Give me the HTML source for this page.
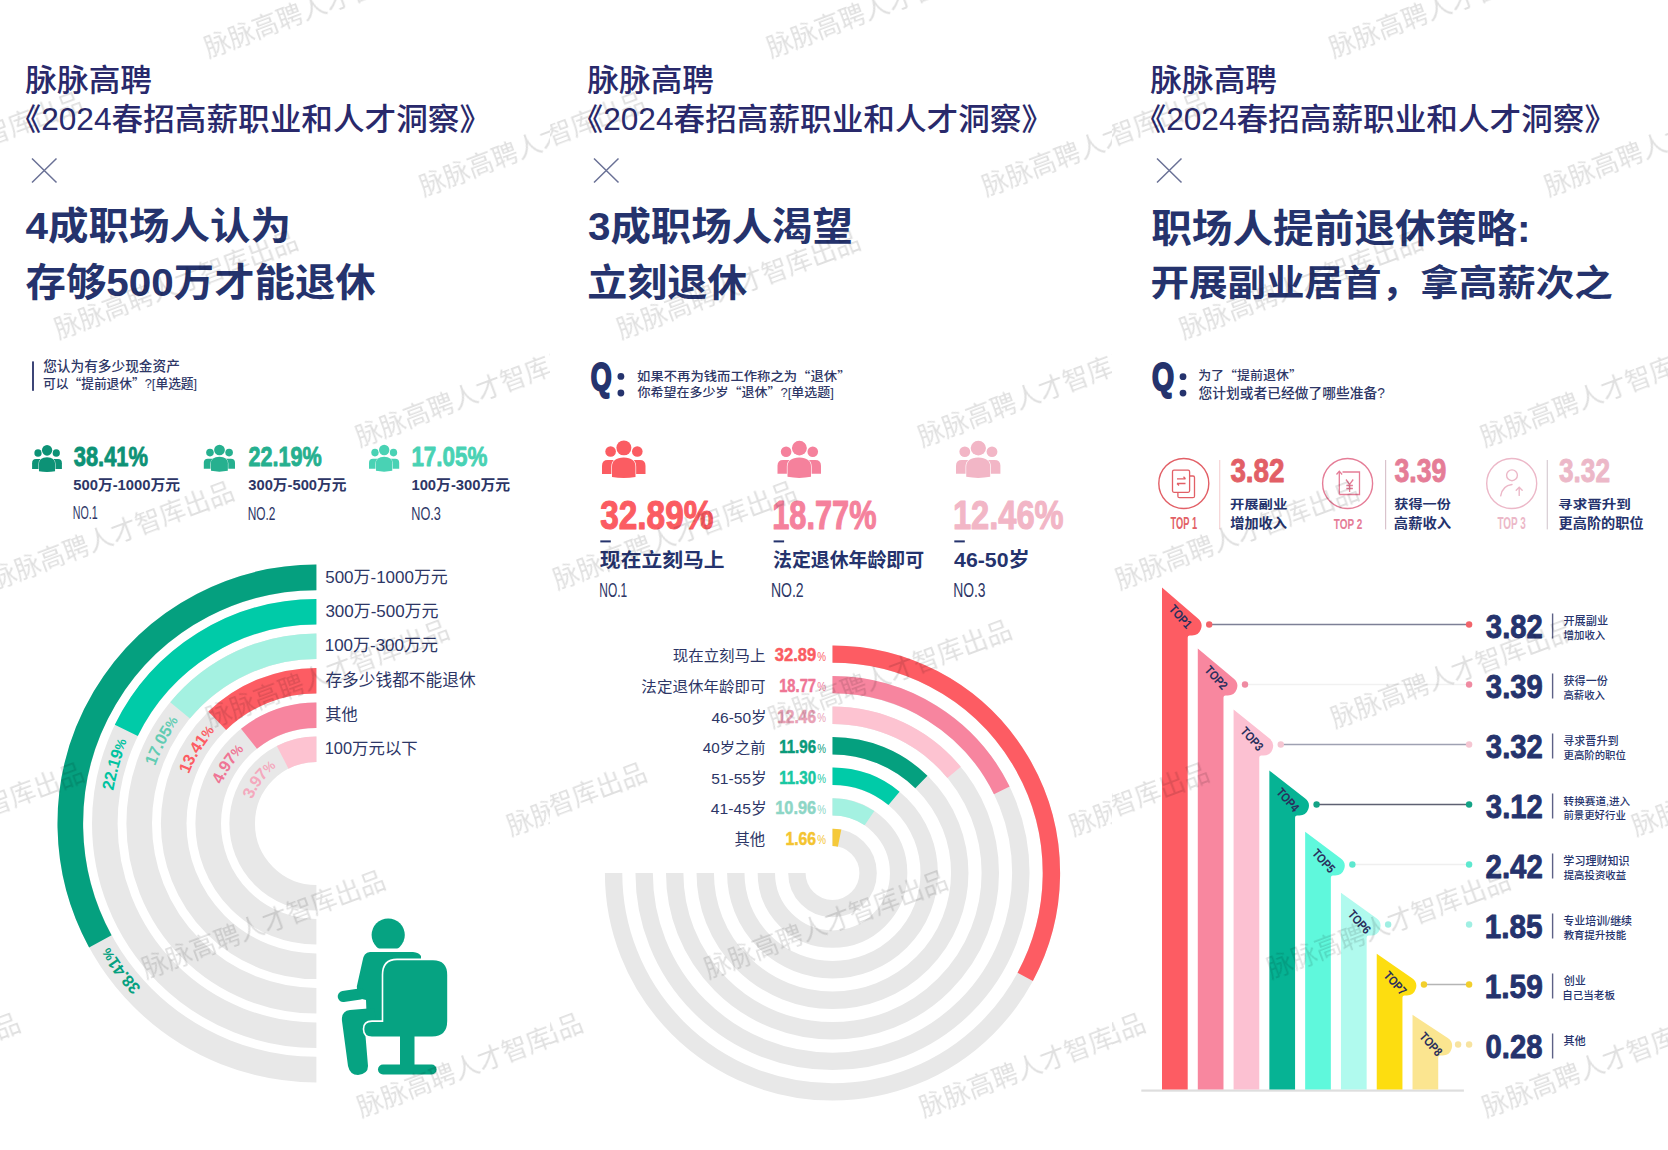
<!DOCTYPE html>
<html><head><meta charset="utf-8"><title>脉脉高聘 2024春招高薪职业和人才洞察</title>
<style>
html,body{margin:0;padding:0;background:#fff;width:1668px;height:1150px;overflow:hidden}
svg{display:block}
text{font-family:"Liberation Sans","Noto Sans CJK SC",sans-serif}
</style></head><body>
<svg width="1668" height="1150" viewBox="0 0 1668 1150">
<rect width="1668" height="1150" fill="#fff"/>
<text x="25.37" y="90.57" font-size="30.31" font-weight="500" fill="#29296b" textLength="126.58" lengthAdjust="spacingAndGlyphs" >脉脉高聘</text>
<text x="9.55" y="130.34" font-size="30.63" font-weight="500" fill="#29296b" textLength="481.49" lengthAdjust="spacingAndGlyphs" >《2024春招高薪职业和人才洞察》</text>
<path d="M32,158.5 L56.5,182.5 M56.5,158.5 L32,182.5" stroke="#6a7196" stroke-width="1.5" fill="none"/>
<text x="25.60" y="239.47" font-size="37.55" font-weight="700" fill="#25336d" textLength="265.44" lengthAdjust="spacingAndGlyphs" >4成职场人认为</text>
<text x="25.60" y="296.41" font-size="38.85" font-weight="700" fill="#25336d" textLength="350.11" lengthAdjust="spacingAndGlyphs" >存够500万才能退休</text>
<text x="587.37" y="90.57" font-size="30.31" font-weight="500" fill="#29296b" textLength="126.58" lengthAdjust="spacingAndGlyphs" >脉脉高聘</text>
<text x="571.55" y="130.34" font-size="30.63" font-weight="500" fill="#29296b" textLength="481.49" lengthAdjust="spacingAndGlyphs" >《2024春招高薪职业和人才洞察》</text>
<path d="M594,158.5 L618.5,182.5 M618.5,158.5 L594,182.5" stroke="#6a7196" stroke-width="1.5" fill="none"/>
<text x="587.99" y="240.18" font-size="38.37" font-weight="700" fill="#25336d" textLength="264.93" lengthAdjust="spacingAndGlyphs" >3成职场人渴望</text>
<text x="587.20" y="296.03" font-size="37.73" font-weight="700" fill="#25336d" textLength="160.20" lengthAdjust="spacingAndGlyphs" >立刻退休</text>
<text x="1150.37" y="90.57" font-size="30.31" font-weight="500" fill="#29296b" textLength="126.58" lengthAdjust="spacingAndGlyphs" >脉脉高聘</text>
<text x="1134.55" y="130.34" font-size="30.63" font-weight="500" fill="#29296b" textLength="481.49" lengthAdjust="spacingAndGlyphs" >《2024春招高薪职业和人才洞察》</text>
<path d="M1157,158.5 L1181.5,182.5 M1181.5,158.5 L1157,182.5" stroke="#6a7196" stroke-width="1.5" fill="none"/>
<text x="1151.19" y="241.63" font-size="38.66" font-weight="700" fill="#25336d" textLength="379.29" lengthAdjust="spacingAndGlyphs" >职场人提前退休策略:</text>
<text x="1150.46" y="295.52" font-size="36.50" font-weight="700" fill="#25336d" textLength="462.31" lengthAdjust="spacingAndGlyphs" >开展副业居首，拿高薪次之</text>
<rect x="32" y="361.4" width="2" height="29.4" fill="#3c4577"/>
<text x="43.19" y="371.49" font-size="13.13" font-weight="500" fill="#2d3666" textLength="136.63" lengthAdjust="spacingAndGlyphs" >您认为有多少现金资产</text>
<text x="42.97" y="388.02" font-size="12.82" font-weight="500" fill="#2d3666" textLength="154.14" lengthAdjust="spacingAndGlyphs" >可以<tspan font-family="Noto Sans CJK SC">“</tspan>提前退休<tspan font-family="Noto Sans CJK SC">”</tspan>?[单选题]</text>
<g transform="translate(32.10,445.00) scale(0.2980,0.3128)" fill="#0d9276"><circle cx="19.8" cy="25.4" r="12.2"/><circle cx="81.1" cy="25.4" r="12.2"/><path d="M0,77 L0,58 Q0,45 13,45 L30,45 L30,77 Z"/><path d="M100,77 L100,58 Q100,45 87,45 L70,45 L70,77 Z"/><path d="M23,84 L23,60 Q23,40 50,39 Q77,40 77,60 L77,84 Q50,89 23,84 Z" stroke="#fff" stroke-width="3" paint-order="stroke"/><circle cx="50.3" cy="17" r="17.2" stroke="#fff" stroke-width="3" paint-order="stroke"/></g>
<text x="73.71" y="466.17" font-size="28.31" font-weight="700" fill="#0d9276" textLength="74.26" lengthAdjust="spacingAndGlyphs"  stroke="#0d9276" stroke-width="0.9" stroke-linejoin="round">38.41%</text>
<text x="73.26" y="489.87" font-size="14.27" font-weight="600" fill="#2d3666" textLength="106.79" lengthAdjust="spacingAndGlyphs" >500万-1000万元</text>
<text x="72.85" y="519.22" font-size="18.03" font-weight="400" fill="#2d3666" textLength="24.84" lengthAdjust="spacingAndGlyphs" >NO.1</text>
<g transform="translate(203.80,444.70) scale(0.3120,0.3116)" fill="#26b08f"><circle cx="19.8" cy="25.4" r="12.2"/><circle cx="81.1" cy="25.4" r="12.2"/><path d="M0,77 L0,58 Q0,45 13,45 L30,45 L30,77 Z"/><path d="M100,77 L100,58 Q100,45 87,45 L70,45 L70,77 Z"/><path d="M23,84 L23,60 Q23,40 50,39 Q77,40 77,60 L77,84 Q50,89 23,84 Z" stroke="#fff" stroke-width="3" paint-order="stroke"/><circle cx="50.3" cy="17" r="17.2" stroke="#fff" stroke-width="3" paint-order="stroke"/></g>
<text x="248.40" y="466.07" font-size="28.45" font-weight="700" fill="#26b08f" textLength="73.26" lengthAdjust="spacingAndGlyphs"  stroke="#26b08f" stroke-width="0.9" stroke-linejoin="round">22.19%</text>
<text x="248.31" y="490.07" font-size="14.27" font-weight="600" fill="#2d3666" textLength="98.14" lengthAdjust="spacingAndGlyphs" >300万-500万元</text>
<text x="247.65" y="519.62" font-size="17.89" font-weight="400" fill="#2d3666" textLength="27.80" lengthAdjust="spacingAndGlyphs" >NO.2</text>
<g transform="translate(369.00,444.70) scale(0.3020,0.3116)" fill="#49d2b4"><circle cx="19.8" cy="25.4" r="12.2"/><circle cx="81.1" cy="25.4" r="12.2"/><path d="M0,77 L0,58 Q0,45 13,45 L30,45 L30,77 Z"/><path d="M100,77 L100,58 Q100,45 87,45 L70,45 L70,77 Z"/><path d="M23,84 L23,60 Q23,40 50,39 Q77,40 77,60 L77,84 Q50,89 23,84 Z" stroke="#fff" stroke-width="3" paint-order="stroke"/><circle cx="50.3" cy="17" r="17.2" stroke="#fff" stroke-width="3" paint-order="stroke"/></g>
<text x="411.41" y="466.07" font-size="28.45" font-weight="700" fill="#49d2b4" textLength="75.87" lengthAdjust="spacingAndGlyphs"  stroke="#49d2b4" stroke-width="0.9" stroke-linejoin="round">17.05%</text>
<text x="411.41" y="490.07" font-size="14.27" font-weight="600" fill="#2d3666" textLength="98.73" lengthAdjust="spacingAndGlyphs" >100万-300万元</text>
<text x="411.28" y="519.62" font-size="17.89" font-weight="400" fill="#2d3666" textLength="29.68" lengthAdjust="spacingAndGlyphs" >NO.3</text>
<path d="M316.40,1069.60 A246.10,246.10 0 0 1 316.40,577.40" fill="none" stroke="#e8e8e8" stroke-width="25.60"/>
<path d="M100.33,941.31 A246.10,246.10 0 0 1 316.40,577.40" fill="none" stroke="#05a07f" stroke-width="25.60"/>
<path d="M316.40,1035.20 A211.70,211.70 0 0 1 316.40,611.80" fill="none" stroke="#e8e8e8" stroke-width="25.60"/>
<path d="M126.29,730.36 A211.70,211.70 0 0 1 316.40,611.80" fill="none" stroke="#00cba8" stroke-width="25.60"/>
<path d="M316.40,1000.70 A177.20,177.20 0 0 1 316.40,646.30" fill="none" stroke="#e8e8e8" stroke-width="25.60"/>
<path d="M180.06,710.31 A177.20,177.20 0 0 1 316.40,646.30" fill="none" stroke="#a4f1e1" stroke-width="25.60"/>
<path d="M316.40,966.30 A142.80,142.80 0 0 1 316.40,680.70" fill="none" stroke="#e8e8e8" stroke-width="25.60"/>
<path d="M217.20,720.78 A142.80,142.80 0 0 1 316.40,680.70" fill="none" stroke="#fd5c63" stroke-width="25.60"/>
<path d="M316.40,931.80 A108.30,108.30 0 0 1 316.40,715.20" fill="none" stroke="#e8e8e8" stroke-width="25.60"/>
<path d="M248.98,738.74 A108.30,108.30 0 0 1 316.40,715.20" fill="none" stroke="#f7859f" stroke-width="25.60"/>
<path d="M316.40,897.80 A74.30,74.30 0 0 1 316.40,749.20" fill="none" stroke="#e8e8e8" stroke-width="25.60"/>
<path d="M282.67,757.30 A74.30,74.30 0 0 1 316.40,749.20" fill="none" stroke="#fdc3d1" stroke-width="25.60"/>
<defs>
<path id="tp1_0" d="M316.40,1069.60 A246.10,246.10 0 0 1 105.01,949.51"/>
<path id="tp1_1" d="M316.40,1035.20 A211.70,211.70 0 0 1 122.26,739.08"/>
<path id="tp1_2" d="M316.40,1000.70 A177.20,177.20 0 0 1 174.33,717.60"/>
<path id="tp1_3" d="M316.40,966.30 A142.80,142.80 0 0 1 210.95,727.21"/>
<path id="tp1_4" d="M316.40,931.80 A108.30,108.30 0 0 1 240.49,746.25"/>
<path id="tp1_5" d="M316.40,897.80 A74.30,74.30 0 0 1 273.25,763.01"/>
</defs>
<text font-size="16.5" font-weight="700" fill="#05a07f" dominant-baseline="central" text-anchor="end"><textPath href="#tp1_0" startOffset="100%">38.41<tspan font-size="13">%</tspan></textPath></text>
<text font-size="16.5" font-weight="700" fill="#00c3a0" dominant-baseline="central" text-anchor="end"><textPath href="#tp1_1" startOffset="100%">22.19<tspan font-size="13">%</tspan></textPath></text>
<text font-size="16.5" font-weight="700" fill="#62ccb3" dominant-baseline="central" text-anchor="end"><textPath href="#tp1_2" startOffset="100%">17.05<tspan font-size="13">%</tspan></textPath></text>
<text font-size="16.5" font-weight="700" fill="#fd5c63" dominant-baseline="central" text-anchor="end"><textPath href="#tp1_3" startOffset="100%">13.41<tspan font-size="13">%</tspan></textPath></text>
<text font-size="16.5" font-weight="700" fill="#ef7595" dominant-baseline="central" text-anchor="end"><textPath href="#tp1_4" startOffset="100%">4.97<tspan font-size="13">%</tspan></textPath></text>
<text font-size="16.5" font-weight="700" fill="#f4a9bd" dominant-baseline="central" text-anchor="end"><textPath href="#tp1_5" startOffset="100%">3.97<tspan font-size="13">%</tspan></textPath></text>
<text x="325.22" y="582.67" font-size="16.98" font-weight="400" fill="#2d3666" >500万-1000万元</text>
<text x="325.39" y="616.87" font-size="16.98" font-weight="400" fill="#2d3666" >300万-500万元</text>
<text x="324.71" y="651.27" font-size="16.98" font-weight="400" fill="#2d3666" >100万-300万元</text>
<text x="325.40" y="686.00" font-size="16.70" font-weight="400" fill="#2d3666" >存多少钱都不能退休</text>
<text x="325.25" y="720.34" font-size="16.17" font-weight="400" fill="#2d3666" >其他</text>
<text x="324.75" y="754.12" font-size="16.40" font-weight="400" fill="#2d3666" >100万元以下</text>
<g fill="#06a382"><clipPath id="hc"><rect x="360" y="900" width="60" height="48.6"/></clipPath><circle cx="388.2" cy="935" r="16.6" clip-path="url(#hc)"/><path d="M362.5,961 Q363.5,952.5 370,952 L413,952 Q419,952.5 421,956 L421,1026 L367,1026 L366,1000 L358,998 L356.8,986.5 Z"/><line x1="360" y1="994" x2="343.2" y2="996.5" stroke="#06a382" stroke-width="11" stroke-linecap="round"/><path d="M374,1008 L350,1010 Q341,1011 342,1021 L348,1066 Q350,1075 358,1075 Q368,1074 368,1066 L365,1030 L378,1030 Z"/><path d="M397,960.2 L433,960.2 Q447.2,960.2 447.2,975 L447.2,1021 Q447.2,1036.4 432,1036.4 L372,1036.4 Q364.3,1036.4 364.3,1029 Q364.3,1021.9 372,1021.9 L383.3,1021.9 L383.3,975 Q383.3,960.2 397,960.2 Z" stroke="#fff" stroke-width="3.2" paint-order="stroke"/><rect x="400" y="1035" width="14.5" height="31"/><rect x="378" y="1064.5" width="58.6" height="10" rx="5"/></g>
<text x="590.73" y="389.82" font-size="38.89" font-weight="700" fill="#25336d" textLength="20.89" lengthAdjust="spacingAndGlyphs" stroke="#25336d" stroke-width="2.2" stroke-linejoin="round">Q</text>
<circle cx="620.9" cy="376.4" r="3.4" fill="#25336d"/><circle cx="620.9" cy="393" r="3.4" fill="#25336d"/>
<text x="637.07" y="380.65" font-size="12.50" font-weight="500" fill="#2d3666" textLength="213.47" lengthAdjust="spacingAndGlyphs" >如果不再为钱而工作称之为<tspan font-family="Noto Sans CJK SC">“</tspan>退休<tspan font-family="Noto Sans CJK SC">”</tspan></text>
<text x="637.47" y="397.12" font-size="12.23" font-weight="500" fill="#2d3666" textLength="196.47" lengthAdjust="spacingAndGlyphs" >你希望在多少岁<tspan font-family="Noto Sans CJK SC">“</tspan>退休<tspan font-family="Noto Sans CJK SC">”</tspan>?[单选题]</text>
<g transform="translate(602.00,440.50) scale(0.4350,0.4337)" fill="#fb5c62"><circle cx="19.8" cy="25.4" r="12.2"/><circle cx="81.1" cy="25.4" r="12.2"/><path d="M0,77 L0,58 Q0,45 13,45 L30,45 L30,77 Z"/><path d="M100,77 L100,58 Q100,45 87,45 L70,45 L70,77 Z"/><path d="M23,84 L23,60 Q23,40 50,39 Q77,40 77,60 L77,84 Q50,89 23,84 Z" stroke="#fff" stroke-width="3" paint-order="stroke"/><circle cx="50.3" cy="17" r="17.2" stroke="#fff" stroke-width="3" paint-order="stroke"/></g>
<g transform="translate(777.50,440.80) scale(0.4350,0.4291)" fill="#f5819c"><circle cx="19.8" cy="25.4" r="12.2"/><circle cx="81.1" cy="25.4" r="12.2"/><path d="M0,77 L0,58 Q0,45 13,45 L30,45 L30,77 Z"/><path d="M100,77 L100,58 Q100,45 87,45 L70,45 L70,77 Z"/><path d="M23,84 L23,60 Q23,40 50,39 Q77,40 77,60 L77,84 Q50,89 23,84 Z" stroke="#fff" stroke-width="3" paint-order="stroke"/><circle cx="50.3" cy="17" r="17.2" stroke="#fff" stroke-width="3" paint-order="stroke"/></g>
<g transform="translate(956.00,440.80) scale(0.4440,0.4291)" fill="#f2b6c6"><circle cx="19.8" cy="25.4" r="12.2"/><circle cx="81.1" cy="25.4" r="12.2"/><path d="M0,77 L0,58 Q0,45 13,45 L30,45 L30,77 Z"/><path d="M100,77 L100,58 Q100,45 87,45 L70,45 L70,77 Z"/><path d="M23,84 L23,60 Q23,40 50,39 Q77,40 77,60 L77,84 Q50,89 23,84 Z" stroke="#fff" stroke-width="3" paint-order="stroke"/><circle cx="50.3" cy="17" r="17.2" stroke="#fff" stroke-width="3" paint-order="stroke"/></g>
<text x="600.18" y="528.75" font-size="39.86" font-weight="700" fill="#fb5c62" textLength="113.31" lengthAdjust="spacingAndGlyphs"  stroke="#fb5c62" stroke-width="1.1" stroke-linejoin="round">32.89%</text>
<rect x="600.3" y="540.4" width="10.5" height="2" fill="#25336d"/>
<text x="772.31" y="528.75" font-size="39.86" font-weight="700" fill="#f5819c" textLength="104.13" lengthAdjust="spacingAndGlyphs"  stroke="#f5819c" stroke-width="1.1" stroke-linejoin="round">18.77%</text>
<rect x="773.6" y="540.4" width="10.5" height="2" fill="#25336d"/>
<text x="952.89" y="528.75" font-size="39.86" font-weight="700" fill="#f2b6c6" textLength="110.79" lengthAdjust="spacingAndGlyphs"  stroke="#f2b6c6" stroke-width="1.1" stroke-linejoin="round">12.46%</text>
<rect x="954.3" y="540.4" width="10.5" height="2" fill="#25336d"/>
<text x="599.88" y="567.33" font-size="19.69" font-weight="700" fill="#25336d" textLength="124.65" lengthAdjust="spacingAndGlyphs" >现在立刻马上</text>
<text x="773.03" y="567.16" font-size="19.49" font-weight="700" fill="#25336d" textLength="151.12" lengthAdjust="spacingAndGlyphs" >法定退休年龄即可</text>
<text x="954.09" y="567.31" font-size="19.90" font-weight="700" fill="#25336d" textLength="75.74" lengthAdjust="spacingAndGlyphs" >46-50岁</text>
<text x="599.34" y="596.99" font-size="20.70" font-weight="400" fill="#2d3666" textLength="27.91" lengthAdjust="spacingAndGlyphs" >NO.1</text>
<text x="770.88" y="596.99" font-size="20.70" font-weight="400" fill="#2d3666" textLength="32.77" lengthAdjust="spacingAndGlyphs" >NO.2</text>
<text x="953.19" y="596.99" font-size="20.70" font-weight="400" fill="#2d3666" textLength="32.41" lengthAdjust="spacingAndGlyphs" >NO.3</text>
<path d="M832.50,654.10 A218.90,218.90 0 1 1 613.60,873.00" fill="none" stroke="#e8e8e8" stroke-width="17.40"/>
<path d="M832.50,654.10 A218.90,218.90 0 0 1 1025.24,976.78" fill="none" stroke="#fd5c63" stroke-width="17.40"/>
<path d="M832.50,684.65 A188.35,188.35 0 1 1 644.15,873.00" fill="none" stroke="#e8e8e8" stroke-width="17.40"/>
<path d="M832.50,684.65 A188.35,188.35 0 0 1 1001.79,790.43" fill="none" stroke="#f7859f" stroke-width="17.40"/>
<path d="M832.50,715.20 A157.80,157.80 0 1 1 674.70,873.00" fill="none" stroke="#e8e8e8" stroke-width="17.40"/>
<path d="M832.50,715.20 A157.80,157.80 0 0 1 954.09,772.41" fill="none" stroke="#fdc3d1" stroke-width="17.40"/>
<path d="M832.50,745.75 A127.25,127.25 0 1 1 705.25,873.00" fill="none" stroke="#e8e8e8" stroke-width="17.40"/>
<path d="M832.50,745.75 A127.25,127.25 0 0 1 921.37,781.93" fill="none" stroke="#05a07f" stroke-width="17.40"/>
<path d="M832.50,776.30 A96.70,96.70 0 1 1 735.80,873.00" fill="none" stroke="#e8e8e8" stroke-width="17.40"/>
<path d="M832.50,776.30 A96.70,96.70 0 0 1 894.01,798.38" fill="none" stroke="#00cba8" stroke-width="17.40"/>
<path d="M832.50,806.85 A66.15,66.15 0 1 1 766.35,873.00" fill="none" stroke="#e8e8e8" stroke-width="17.40"/>
<path d="M832.50,806.85 A66.15,66.15 0 0 1 869.49,818.16" fill="none" stroke="#a4f1e1" stroke-width="17.40"/>
<path d="M832.50,837.40 A35.60,35.60 0 1 1 796.90,873.00" fill="none" stroke="#e8e8e8" stroke-width="17.40"/>
<path d="M832.50,837.40 A35.60,35.60 0 0 1 839.60,838.11" fill="none" stroke="#f5c93a" stroke-width="17.40"/>
<text x="672.78" y="661.33" font-size="15.26" font-weight="400" fill="#2d3666" textLength="92.69" lengthAdjust="spacingAndGlyphs" >现在立刻马上</text>
<text x="774.72" y="661.47" font-size="18.31" font-weight="700" fill="#fb5c62" textLength="41.43" lengthAdjust="spacingAndGlyphs"  stroke="#fb5c62" stroke-width="0.5" stroke-linejoin="round">32.89</text>
<text x="817.30" y="660.76" font-size="13.66" font-weight="400" fill="#fb5c62" textLength="8.78" lengthAdjust="spacingAndGlyphs" >%</text>
<text x="641.38" y="691.93" font-size="15.26" font-weight="400" fill="#2d3666" textLength="124.10" lengthAdjust="spacingAndGlyphs" >法定退休年龄即可</text>
<text x="779.16" y="692.07" font-size="18.31" font-weight="700" fill="#ef7595" textLength="36.92" lengthAdjust="spacingAndGlyphs"  stroke="#ef7595" stroke-width="0.5" stroke-linejoin="round">18.77</text>
<text x="817.30" y="691.36" font-size="13.66" font-weight="400" fill="#ef7595" textLength="8.78" lengthAdjust="spacingAndGlyphs" >%</text>
<text x="711.49" y="722.51" font-size="15.43" font-weight="400" fill="#2d3666" textLength="55.07" lengthAdjust="spacingAndGlyphs" >46-50岁</text>
<text x="777.22" y="722.67" font-size="18.31" font-weight="700" fill="#e9a2b6" textLength="38.89" lengthAdjust="spacingAndGlyphs"  stroke="#e9a2b6" stroke-width="0.5" stroke-linejoin="round">12.46</text>
<text x="817.30" y="721.96" font-size="13.66" font-weight="400" fill="#e9a2b6" textLength="8.78" lengthAdjust="spacingAndGlyphs" >%</text>
<text x="702.69" y="753.13" font-size="15.26" font-weight="400" fill="#2d3666" >40岁之前</text>
<text x="779.14" y="753.27" font-size="18.31" font-weight="700" fill="#0a9a7a" textLength="36.95" lengthAdjust="spacingAndGlyphs"  stroke="#0a9a7a" stroke-width="0.5" stroke-linejoin="round">11.96</text>
<text x="817.30" y="752.56" font-size="13.66" font-weight="400" fill="#0a9a7a" textLength="8.78" lengthAdjust="spacingAndGlyphs" >%</text>
<text x="711.18" y="783.71" font-size="15.43" font-weight="400" fill="#2d3666" textLength="55.39" lengthAdjust="spacingAndGlyphs" >51-55岁</text>
<text x="779.14" y="783.87" font-size="18.31" font-weight="700" fill="#19c7a2" textLength="36.95" lengthAdjust="spacingAndGlyphs"  stroke="#19c7a2" stroke-width="0.5" stroke-linejoin="round">11.30</text>
<text x="817.30" y="783.16" font-size="13.66" font-weight="400" fill="#19c7a2" textLength="8.78" lengthAdjust="spacingAndGlyphs" >%</text>
<text x="710.89" y="814.31" font-size="15.43" font-weight="400" fill="#2d3666" textLength="55.69" lengthAdjust="spacingAndGlyphs" >41-45岁</text>
<text x="775.27" y="814.47" font-size="18.31" font-weight="700" fill="#8dd6c6" textLength="40.87" lengthAdjust="spacingAndGlyphs"  stroke="#8dd6c6" stroke-width="0.5" stroke-linejoin="round">10.96</text>
<text x="817.30" y="813.76" font-size="13.66" font-weight="400" fill="#8dd6c6" textLength="8.78" lengthAdjust="spacingAndGlyphs" >%</text>
<text x="734.49" y="844.91" font-size="15.43" font-weight="400" fill="#2d3666" textLength="30.67" lengthAdjust="spacingAndGlyphs" >其他</text>
<text x="785.40" y="845.07" font-size="18.31" font-weight="700" fill="#f4c430" textLength="30.72" lengthAdjust="spacingAndGlyphs"  stroke="#f4c430" stroke-width="0.5" stroke-linejoin="round">1.66</text>
<text x="817.30" y="844.36" font-size="13.66" font-weight="400" fill="#f4c430" textLength="8.78" lengthAdjust="spacingAndGlyphs" >%</text>
<text x="1151.97" y="390.14" font-size="38.78" font-weight="700" fill="#25336d" textLength="22.00" lengthAdjust="spacingAndGlyphs" stroke="#25336d" stroke-width="2.2" stroke-linejoin="round">Q</text>
<circle cx="1183" cy="376.7" r="3.4" fill="#25336d"/><circle cx="1183" cy="393.1" r="3.4" fill="#25336d"/>
<text x="1198.15" y="380.08" font-size="12.42" font-weight="500" fill="#2d3666" textLength="103.76" lengthAdjust="spacingAndGlyphs" >为了<tspan font-family="Noto Sans CJK SC">“</tspan>提前退休<tspan font-family="Noto Sans CJK SC">”</tspan></text>
<text x="1198.39" y="397.62" font-size="13.75" font-weight="500" fill="#2d3666" >您计划或者已经做了哪些准备?</text>
<circle cx="1183.8" cy="483.5" r="25" fill="none" stroke="#e25f66" stroke-width="1.4"/>
<circle cx="1347.6" cy="483.5" r="25" fill="none" stroke="#e57d97" stroke-width="1.4"/>
<circle cx="1511.7" cy="483.5" r="25" fill="none" stroke="#ecb8c8" stroke-width="1.4"/>
<g fill="none" stroke="#e25f66" stroke-width="1.3"><rect x="1177.9" y="476" width="16.6" height="21.7" rx="1.5"/><rect x="1172.5" y="470.2" width="17.1" height="22.1" rx="1.5" fill="#fff"/><path d="M1177,478.8 L1185.5,478.8 M1183.5,476.8 L1185.5,478.8 M1185.5,483.5 L1177,483.5 M1179,485.5 L1177,483.5"/></g>
<g fill="none" stroke="#e57d97" stroke-width="1.3"><path d="M1339.3,494.5 L1339.3,471.2 M1336.5,474.5 L1339.3,471.2 L1342.1,474.5 M1342.5,472 L1359.5,472 L1359.5,494.5 L1339.3,494.5"/><path d="M1346,479.5 L1349.6,484.5 L1353.2,479.5 M1349.6,484.5 L1349.6,492 M1346.3,485.5 L1352.9,485.5 M1346.3,488.5 L1352.9,488.5"/></g>
<g fill="none" stroke="#ecb8c8" stroke-width="1.4" stroke-linecap="round"><circle cx="1512" cy="475.3" r="5.4"/><path d="M1500.7,495.9 Q1502.5,485.5 1512,484.5"/><path d="M1519.2,495.4 L1519.2,487.3 M1516.2,490.3 L1519.2,487.3 L1522.2,490.3"/></g>
<text x="1170.61" y="529.34" font-size="15.77" font-weight="700" fill="#e25f66" textLength="26.43" lengthAdjust="spacingAndGlyphs" >TOP 1</text>
<text x="1333.80" y="529.15" font-size="15.49" font-weight="700" fill="#e57d97" textLength="28.36" lengthAdjust="spacingAndGlyphs" >TOP 2</text>
<text x="1497.50" y="529.24" font-size="15.63" font-weight="700" fill="#ecb8c8" textLength="28.25" lengthAdjust="spacingAndGlyphs" >TOP 3</text>
<rect x="1219.1000000000001" y="460" width="1.2" height="69.4" fill="#f6d3d5"/>
<rect x="1385.0" y="460" width="1.2" height="69.4" fill="#d9c3cc"/>
<rect x="1546.7" y="460" width="1.2" height="69.4" fill="#d8cdd3"/>
<text x="1230.39" y="482.02" font-size="32.96" font-weight="700" fill="#e25f66" textLength="54.16" lengthAdjust="spacingAndGlyphs"  stroke="#e25f66" stroke-width="0.9" stroke-linejoin="round">3.82</text>
<text x="1394.52" y="481.82" font-size="32.68" font-weight="700" fill="#e57d97" textLength="51.79" lengthAdjust="spacingAndGlyphs"  stroke="#e57d97" stroke-width="0.9" stroke-linejoin="round">3.39</text>
<text x="1558.93" y="482.22" font-size="32.82" font-weight="700" fill="#ecb8c8" textLength="51.07" lengthAdjust="spacingAndGlyphs"  stroke="#ecb8c8" stroke-width="0.9" stroke-linejoin="round">3.32</text>
<text x="1229.93" y="508.96" font-size="12.19" font-weight="700" fill="#25336d" textLength="57.35" lengthAdjust="spacingAndGlyphs" >开展副业</text>
<text x="1230.22" y="527.95" font-size="13.54" font-weight="700" fill="#25336d" textLength="56.77" lengthAdjust="spacingAndGlyphs" >增加收入</text>
<text x="1394.32" y="509.08" font-size="12.19" font-weight="700" fill="#25336d" textLength="56.62" lengthAdjust="spacingAndGlyphs" >获得一份</text>
<text x="1393.88" y="527.96" font-size="13.40" font-weight="700" fill="#25336d" textLength="57.20" lengthAdjust="spacingAndGlyphs" >高薪收入</text>
<text x="1558.13" y="509.08" font-size="12.19" font-weight="700" fill="#25336d" textLength="72.75" lengthAdjust="spacingAndGlyphs" >寻求晋升到</text>
<text x="1558.58" y="527.96" font-size="13.40" font-weight="700" fill="#25336d" textLength="84.99" lengthAdjust="spacingAndGlyphs" >更高阶的职位</text>
<rect x="1141.3" y="1089.5" width="322.6" height="2.2" fill="#dedede"/>
<path d="M1162.00,587.40 L1198.23,618.82 A9.5,9.5 0 0 1 1192.00,635.50 L1189.70,635.50 Q1187.70,635.50 1187.70,637.50 L1187.70,1089.5 L1162.00,1089.5 Z" fill="#fd5c63"/>
<text transform="translate(1180.30,616.90) rotate(48)" font-size="12.5" font-weight="700" fill="#2a2f5c" text-anchor="middle" dominant-baseline="central" textLength="27" lengthAdjust="spacingAndGlyphs">TOP1</text>
<line x1="1209.20" y1="624.5" x2="1469.1" y2="624.5" stroke="#7d8096" stroke-width="1.5"/>
<circle cx="1209.20" cy="624.5" r="3.2" fill="#f2646a"/>
<circle cx="1469.1" cy="624.5" r="3.2" fill="#f2646a"/>
<text x="1485.86" y="637.72" font-size="33.24" font-weight="700" fill="#25336d" textLength="56.94" lengthAdjust="spacingAndGlyphs"  stroke="#25336d" stroke-width="0.9" stroke-linejoin="round">3.82</text>
<rect x="1551.9" y="613.5" width="1.4" height="25" fill="#5d6186"/>
<text x="1563.45" y="624.88" font-size="11.17" font-weight="500" fill="#25336d" >开展副业</text>
<text x="1563.59" y="638.96" font-size="10.42" font-weight="500" fill="#25336d" >增加收入</text>
<path d="M1197.79,648.46 L1233.89,678.72 A9.5,9.5 0 0 1 1227.79,695.50 L1225.49,695.50 Q1223.49,695.50 1223.49,697.50 L1223.49,1089.5 L1197.79,1089.5 Z" fill="#f8879f"/>
<text transform="translate(1216.09,677.96) rotate(48)" font-size="12.5" font-weight="700" fill="#2a2f5c" text-anchor="middle" dominant-baseline="central" textLength="27" lengthAdjust="spacingAndGlyphs">TOP2</text>
<line x1="1244.99" y1="684.5" x2="1469.1" y2="684.5" stroke="#f1f1f1" stroke-width="1.5"/>
<circle cx="1244.99" cy="684.5" r="3.2" fill="#ef8ba2"/>
<circle cx="1469.1" cy="684.5" r="3.2" fill="#ef8ba2"/>
<text x="1485.86" y="697.72" font-size="33.24" font-weight="700" fill="#25336d" textLength="56.94" lengthAdjust="spacingAndGlyphs"  stroke="#25336d" stroke-width="0.9" stroke-linejoin="round">3.39</text>
<rect x="1551.9" y="673.5" width="1.4" height="25" fill="#5d6186"/>
<text x="1563.57" y="684.89" font-size="11.05" font-weight="500" fill="#25336d" >获得一份</text>
<text x="1563.38" y="698.96" font-size="10.42" font-weight="500" fill="#25336d" >高薪收入</text>
<path d="M1233.58,709.52 L1269.55,738.61 A9.5,9.5 0 0 1 1263.58,755.50 L1261.28,755.50 Q1259.28,755.50 1259.28,757.50 L1259.28,1089.5 L1233.58,1089.5 Z" fill="#fcc1d2"/>
<text transform="translate(1251.88,739.02) rotate(48)" font-size="12.5" font-weight="700" fill="#2a2f5c" text-anchor="middle" dominant-baseline="central" textLength="27" lengthAdjust="spacingAndGlyphs">TOP3</text>
<line x1="1280.78" y1="744.5" x2="1469.1" y2="744.5" stroke="#9fa1b2" stroke-width="1.5"/>
<circle cx="1280.78" cy="744.5" r="3.2" fill="#f5c6d2"/>
<circle cx="1469.1" cy="744.5" r="3.2" fill="#f5c6d2"/>
<text x="1485.86" y="757.72" font-size="33.24" font-weight="700" fill="#25336d" textLength="56.94" lengthAdjust="spacingAndGlyphs"  stroke="#25336d" stroke-width="0.9" stroke-linejoin="round">3.32</text>
<rect x="1551.9" y="733.5" width="1.4" height="25" fill="#5d6186"/>
<text x="1563.24" y="744.89" font-size="11.05" font-weight="500" fill="#25336d" >寻求晋升到</text>
<text x="1563.48" y="758.96" font-size="10.42" font-weight="500" fill="#25336d" >更高阶的职位</text>
<path d="M1269.37,770.58 L1305.21,798.51 A9.5,9.5 0 0 1 1299.37,815.50 L1297.07,815.50 Q1295.07,815.50 1295.07,817.50 L1295.07,1089.5 L1269.37,1089.5 Z" fill="#06b394"/>
<text transform="translate(1287.67,800.08) rotate(48)" font-size="12.5" font-weight="700" fill="#2a2f5c" text-anchor="middle" dominant-baseline="central" textLength="27" lengthAdjust="spacingAndGlyphs">TOP4</text>
<line x1="1316.57" y1="804.5" x2="1469.1" y2="804.5" stroke="#5e6172" stroke-width="1.5"/>
<circle cx="1316.57" cy="804.5" r="3.2" fill="#13a386"/>
<circle cx="1469.1" cy="804.5" r="3.2" fill="#13a386"/>
<text x="1485.86" y="817.72" font-size="33.24" font-weight="700" fill="#25336d" textLength="56.94" lengthAdjust="spacingAndGlyphs"  stroke="#25336d" stroke-width="0.9" stroke-linejoin="round">3.12</text>
<rect x="1551.9" y="793.5" width="1.4" height="25" fill="#5d6186"/>
<text x="1563.58" y="804.62" font-size="10.61" font-weight="500" fill="#25336d" >转换赛道,进入</text>
<text x="1563.38" y="818.96" font-size="10.42" font-weight="500" fill="#25336d" >前景更好行业</text>
<path d="M1305.16,831.64 L1340.86,858.40 A9.5,9.5 0 0 1 1335.16,875.50 L1332.86,875.50 Q1330.86,875.50 1330.86,877.50 L1330.86,1089.5 L1305.16,1089.5 Z" fill="#5ff8dc"/>
<text transform="translate(1323.46,861.14) rotate(48)" font-size="12.5" font-weight="700" fill="#2a2f5c" text-anchor="middle" dominant-baseline="central" textLength="27" lengthAdjust="spacingAndGlyphs">TOP5</text>
<line x1="1352.36" y1="864.5" x2="1469.1" y2="864.5" stroke="#efefef" stroke-width="1.5"/>
<circle cx="1352.36" cy="864.5" r="3.2" fill="#5ee8cf"/>
<circle cx="1469.1" cy="864.5" r="3.2" fill="#5ee8cf"/>
<text x="1485.57" y="878.05" font-size="33.71" font-weight="700" fill="#25336d" textLength="57.25" lengthAdjust="spacingAndGlyphs"  stroke="#25336d" stroke-width="0.9" stroke-linejoin="round">2.42</text>
<rect x="1551.9" y="853.5" width="1.4" height="25" fill="#5d6186"/>
<text x="1563.35" y="865.01" font-size="11.05" font-weight="500" fill="#25336d" >学习理财知识</text>
<text x="1563.69" y="878.96" font-size="10.42" font-weight="500" fill="#25336d" >提高投资收益</text>
<path d="M1340.95,892.70 L1376.50,918.29 A9.5,9.5 0 0 1 1370.95,935.50 L1368.65,935.50 Q1366.65,935.50 1366.65,937.50 L1366.65,1089.5 L1340.95,1089.5 Z" fill="#b0faee"/>
<text transform="translate(1359.25,922.20) rotate(48)" font-size="12.5" font-weight="700" fill="#2a2f5c" text-anchor="middle" dominant-baseline="central" textLength="27" lengthAdjust="spacingAndGlyphs">TOP6</text>
<circle cx="1388.15" cy="924.5" r="3.2" fill="#a0efe3"/>
<circle cx="1469.1" cy="924.5" r="3.2" fill="#a0efe3"/>
<text x="1484.67" y="937.72" font-size="33.24" font-weight="700" fill="#25336d" textLength="57.86" lengthAdjust="spacingAndGlyphs"  stroke="#25336d" stroke-width="0.9" stroke-linejoin="round">1.85</text>
<rect x="1551.9" y="913.5" width="1.4" height="25" fill="#5d6186"/>
<text x="1563.35" y="924.91" font-size="10.94" font-weight="500" fill="#25336d" >专业培训/继续</text>
<text x="1563.69" y="938.96" font-size="10.42" font-weight="500" fill="#25336d" >教育提升技能</text>
<path d="M1376.74,953.76 L1412.13,978.18 A9.5,9.5 0 0 1 1406.74,995.50 L1404.44,995.50 Q1402.44,995.50 1402.44,997.50 L1402.44,1089.5 L1376.74,1089.5 Z" fill="#fddd10"/>
<text transform="translate(1395.04,983.26) rotate(48)" font-size="12.5" font-weight="700" fill="#2a2f5c" text-anchor="middle" dominant-baseline="central" textLength="27" lengthAdjust="spacingAndGlyphs">TOP7</text>
<line x1="1423.94" y1="984.5" x2="1469.1" y2="984.5" stroke="#b5b5b5" stroke-width="1.5"/>
<circle cx="1423.94" cy="984.5" r="3.2" fill="#f2cf2c"/>
<circle cx="1469.1" cy="984.5" r="3.2" fill="#f2cf2c"/>
<text x="1484.66" y="997.72" font-size="33.24" font-weight="700" fill="#25336d" textLength="58.17" lengthAdjust="spacingAndGlyphs"  stroke="#25336d" stroke-width="0.9" stroke-linejoin="round">1.59</text>
<rect x="1551.9" y="973.5" width="1.4" height="25" fill="#5d6186"/>
<text x="1563.68" y="984.89" font-size="11.05" font-weight="500" fill="#25336d" >创业</text>
<text x="1562.32" y="998.95" font-size="10.53" font-weight="500" fill="#25336d" >自己当老板</text>
<path d="M1412.53,1014.82 L1447.76,1038.07 A9.5,9.5 0 0 1 1442.53,1055.50 L1440.23,1055.50 Q1438.23,1055.50 1438.23,1057.50 L1438.23,1089.5 L1412.53,1089.5 Z" fill="#fbe590"/>
<text transform="translate(1430.83,1044.32) rotate(48)" font-size="12.5" font-weight="700" fill="#2a2f5c" text-anchor="middle" dominant-baseline="central" textLength="27" lengthAdjust="spacingAndGlyphs">TOP8</text>
<circle cx="1458.1" cy="1044.5" r="3.2" fill="#f7e3a0"/>
<circle cx="1469.1" cy="1044.5" r="3.2" fill="#f7e3a0"/>
<text x="1485.57" y="1057.72" font-size="33.24" font-weight="700" fill="#25336d" textLength="56.94" lengthAdjust="spacingAndGlyphs"  stroke="#25336d" stroke-width="0.9" stroke-linejoin="round">0.28</text>
<rect x="1551.9" y="1033.5" width="1.4" height="25" fill="#5d6186"/>
<text x="1563.45" y="1044.99" font-size="11.17" font-weight="500" fill="#25336d" >其他</text>
<defs><clipPath id="wc0"><rect x="0" y="0" width="550" height="1150"/></clipPath><clipPath id="wc1"><rect x="550" y="0" width="562" height="1150"/></clipPath><clipPath id="wc2"><rect x="1112" y="0" width="556" height="1150"/></clipPath></defs><g clip-path="url(#wc0)" fill="#000" opacity="0.125"><text transform="translate(-156.70,200.11) rotate(-20.6)" font-size="25.8">脉脉高聘人才智库出品</text><text transform="translate(208.30,57.41) rotate(-20.6)" font-size="25.8">脉脉高聘人才智库出品</text><text transform="translate(58.50,338.71) rotate(-20.6)" font-size="25.8">脉脉高聘人才智库出品</text><text transform="translate(423.50,196.01) rotate(-20.6)" font-size="25.8">脉脉高聘人才智库出品</text><text transform="translate(-5.40,589.21) rotate(-20.6)" font-size="25.8">脉脉高聘人才智库出品</text><text transform="translate(359.60,446.51) rotate(-20.6)" font-size="25.8">脉脉高聘人才智库出品</text><text transform="translate(-155.20,870.51) rotate(-20.6)" font-size="25.8">脉脉高聘人才智库出品</text><text transform="translate(209.80,727.81) rotate(-20.6)" font-size="25.8">脉脉高聘人才智库出品</text><text transform="translate(-219.10,1121.01) rotate(-20.6)" font-size="25.8">脉脉高聘人才智库出品</text><text transform="translate(145.90,978.31) rotate(-20.6)" font-size="25.8">脉脉高聘人才智库出品</text><text transform="translate(510.90,835.61) rotate(-20.6)" font-size="25.8">脉脉高聘人才智库出品</text><text transform="translate(-3.90,1259.61) rotate(-20.6)" font-size="25.8">脉脉高聘人才智库出品</text><text transform="translate(361.10,1116.91) rotate(-20.6)" font-size="25.8">脉脉高聘人才智库出品</text></g><g clip-path="url(#wc1)" fill="#000" opacity="0.125"><text transform="translate(405.80,200.11) rotate(-20.6)" font-size="25.8">脉脉高聘人才智库出品</text><text transform="translate(770.80,57.41) rotate(-20.6)" font-size="25.8">脉脉高聘人才智库出品</text><text transform="translate(621.00,338.71) rotate(-20.6)" font-size="25.8">脉脉高聘人才智库出品</text><text transform="translate(986.00,196.01) rotate(-20.6)" font-size="25.8">脉脉高聘人才智库出品</text><text transform="translate(557.10,589.21) rotate(-20.6)" font-size="25.8">脉脉高聘人才智库出品</text><text transform="translate(922.10,446.51) rotate(-20.6)" font-size="25.8">脉脉高聘人才智库出品</text><text transform="translate(407.30,870.51) rotate(-20.6)" font-size="25.8">脉脉高聘人才智库出品</text><text transform="translate(772.30,727.81) rotate(-20.6)" font-size="25.8">脉脉高聘人才智库出品</text><text transform="translate(343.40,1121.01) rotate(-20.6)" font-size="25.8">脉脉高聘人才智库出品</text><text transform="translate(708.40,978.31) rotate(-20.6)" font-size="25.8">脉脉高聘人才智库出品</text><text transform="translate(1073.40,835.61) rotate(-20.6)" font-size="25.8">脉脉高聘人才智库出品</text><text transform="translate(558.60,1259.61) rotate(-20.6)" font-size="25.8">脉脉高聘人才智库出品</text><text transform="translate(923.60,1116.91) rotate(-20.6)" font-size="25.8">脉脉高聘人才智库出品</text></g><g clip-path="url(#wc2)" fill="#000" opacity="0.125"><text transform="translate(968.30,200.11) rotate(-20.6)" font-size="25.8">脉脉高聘人才智库出品</text><text transform="translate(1333.30,57.41) rotate(-20.6)" font-size="25.8">脉脉高聘人才智库出品</text><text transform="translate(1183.50,338.71) rotate(-20.6)" font-size="25.8">脉脉高聘人才智库出品</text><text transform="translate(1548.50,196.01) rotate(-20.6)" font-size="25.8">脉脉高聘人才智库出品</text><text transform="translate(1119.60,589.21) rotate(-20.6)" font-size="25.8">脉脉高聘人才智库出品</text><text transform="translate(1484.60,446.51) rotate(-20.6)" font-size="25.8">脉脉高聘人才智库出品</text><text transform="translate(969.80,870.51) rotate(-20.6)" font-size="25.8">脉脉高聘人才智库出品</text><text transform="translate(1334.80,727.81) rotate(-20.6)" font-size="25.8">脉脉高聘人才智库出品</text><text transform="translate(905.90,1121.01) rotate(-20.6)" font-size="25.8">脉脉高聘人才智库出品</text><text transform="translate(1270.90,978.31) rotate(-20.6)" font-size="25.8">脉脉高聘人才智库出品</text><text transform="translate(1635.90,835.61) rotate(-20.6)" font-size="25.8">脉脉高聘人才智库出品</text><text transform="translate(1121.10,1259.61) rotate(-20.6)" font-size="25.8">脉脉高聘人才智库出品</text><text transform="translate(1486.10,1116.91) rotate(-20.6)" font-size="25.8">脉脉高聘人才智库出品</text></g>
</svg>
</body></html>
